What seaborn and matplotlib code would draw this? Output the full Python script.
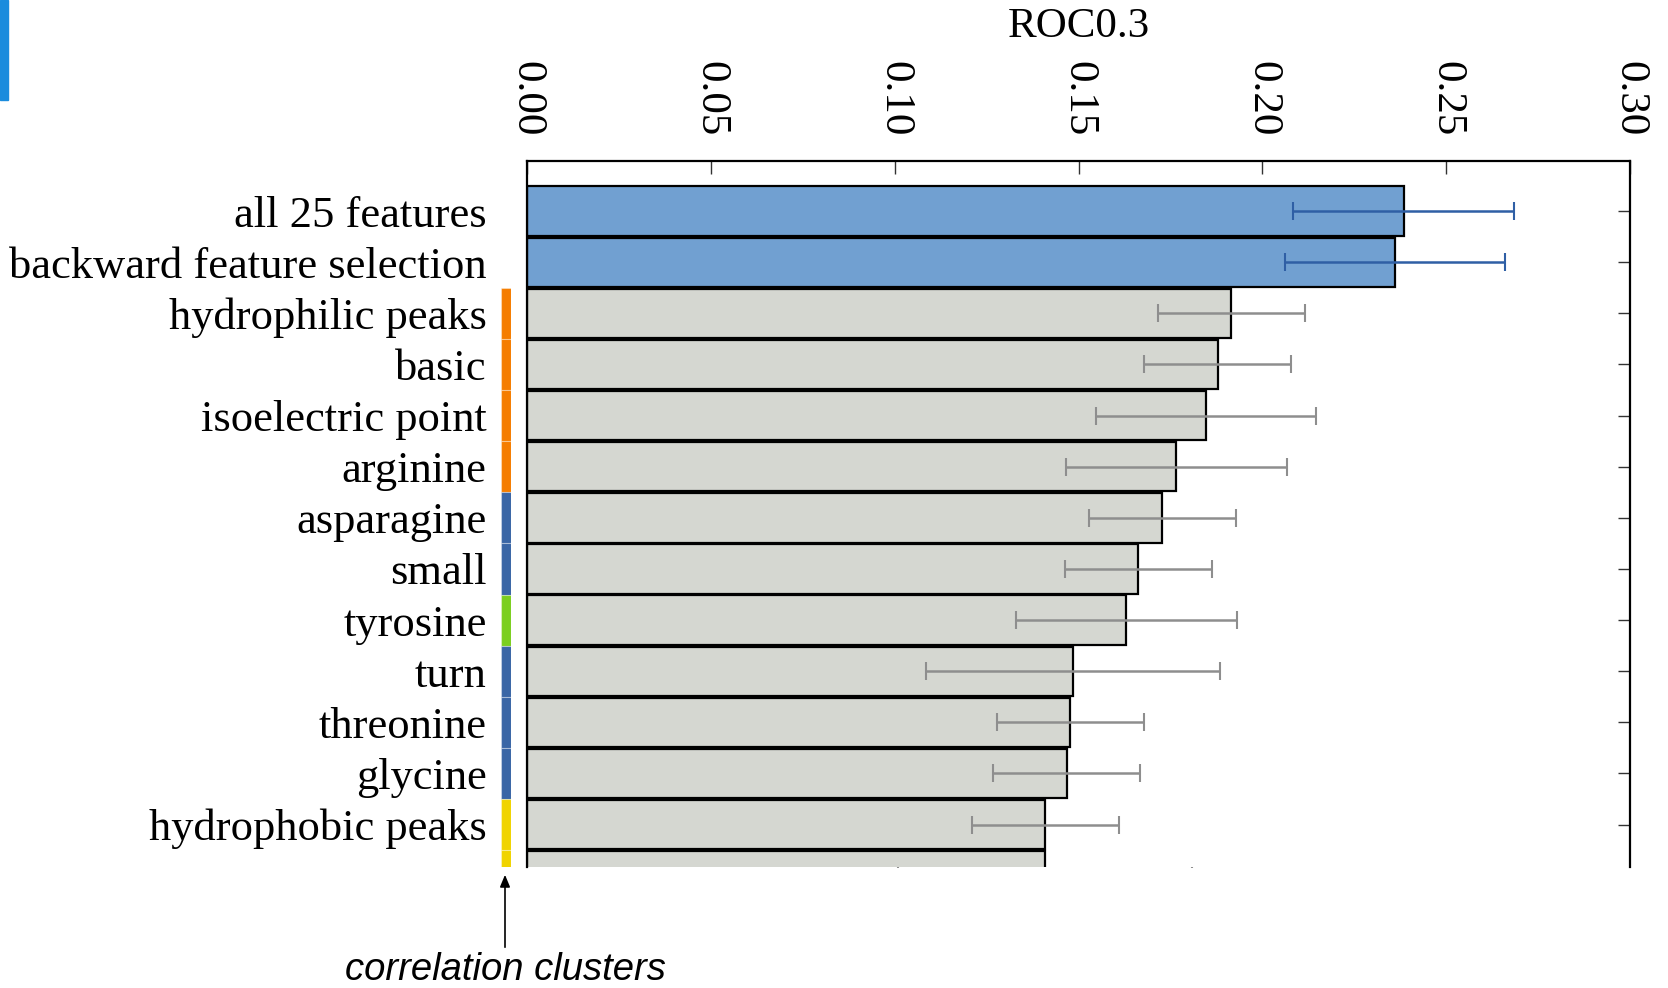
import numpy as np
import pandas as pd
import matplotlib
matplotlib.use("Agg")
import matplotlib.pyplot as plt
import seaborn as sns
from matplotlib.patches import Rectangle

# ---- data ----
features = ["all 25 features", "backward feature selection", "hydrophilic peaks",
            "basic", "isoelectric point", "arginine", "asparagine", "small",
            "tyrosine", "turn", "threonine", "glycine", "hydrophobic peaks",
            "next feature"]
roc03 = [0.2384, 0.2361, 0.1916, 0.1879, 0.1847, 0.1766, 0.1728, 0.1662,
         0.1630, 0.1486, 0.1477, 0.1468, 0.1410, 0.1410]
roc_err = [0.030, 0.030, 0.020, 0.020, 0.030, 0.030, 0.020, 0.020,
           0.030, 0.040, 0.020, 0.020, 0.020, 0.040]
groups = ["combined", "combined"] + ["single"] * 12
clusters = [None, None, "orange", "orange", "orange", "orange", "blue", "blue",
            "green", "blue", "blue", "blue", "yellow", "yellow"]
xticks = [0.00, 0.05, 0.10, 0.15, 0.20, 0.25, 0.30]

bar_colors = {"combined": "#71A0D1", "single": "#D5D7D1"}
err_colors = {"combined": "#2F5FA5", "single": "#8E8E8E"}
cluster_colors = {"orange": "#F57D00", "blue": "#3A66A6", "green": "#7BCF1F",
                  "yellow": "#F0D400"}

df = pd.DataFrame({"feature": features, "roc": roc03, "err": roc_err,
                   "group": groups})

sns.set_theme(style="white")
plt.rcParams["font.family"] = ["Liberation Serif", "DejaVu Serif"]
plt.rcParams["text.color"] = "black"
plt.rcParams["xtick.color"] = "black"
plt.rcParams["ytick.color"] = "black"
plt.rcParams["axes.labelcolor"] = "black"

W, H = 1668, 988
fig = plt.figure(figsize=(W / 100, H / 100), dpi=100)
ax = fig.add_axes([527 / W, 1 - 867 / H, (1630 - 527) / W, (867 - 161) / H])

sns.barplot(data=df, x="roc", y="feature", hue="feature",
            palette=[bar_colors[g] for g in groups], orient="h",
            width=0.965, edgecolor="black", linewidth=1.6, legend=False,
            errorbar=None, saturation=1, ax=ax, zorder=2)

pos = np.arange(len(features))
for g in ["combined", "single"]:
    m = df["group"] == g
    ax.errorbar(df.loc[m, "roc"], pos[m.values], xerr=df.loc[m, "err"],
                fmt="none", ecolor=err_colors[g], elinewidth=1.8,
                capsize=6.5, capthick=1.5, zorder=3)

ylim = (12.83, -0.98)
ax.set_xlim(0, 0.30)
ax.set_ylim(*ylim)
ax.set_xticks(xticks)
ax.set_xticklabels([f"{t:.2f}" for t in xticks], rotation=-90)
ax.xaxis.tick_top()
ax.xaxis.set_label_position("top")
ax.set_xlabel("ROC0.3", fontsize=31, labelpad=17)
ax.set_ylabel("")
ax.set_yticks(pos[:13])
ax.set_yticklabels(features[:13])
ax.tick_params(axis="x", which="both", direction="in", length=9, width=1,
               labelsize=31, pad=18, top=True, bottom=False,
               labeltop=True, labelbottom=False, color="#333333",
               labelcolor="black")
ax.tick_params(axis="y", which="both", direction="in", length=9, width=1,
               labelsize=32, pad=29, left=True, right=True, color="#333333",
               labelcolor="black")
for s in ["top", "left", "right"]:
    ax.spines[s].set_visible(True)
    ax.spines[s].set_linewidth(1.6)
    ax.spines[s].set_color("black")
ax.spines["bottom"].set_visible(False)
ax.grid(False)

# cluster colour strip
ax2 = fig.add_axes([501 / W, 1 - 867 / H, 10 / W, (867 - 161) / H])
cpos = [p for p, c in zip(pos, clusters) if c is not None]
ccol = [cluster_colors[c] for c in clusters if c is not None]
ax2.barh(cpos, [1] * len(cpos), height=1.0, color=ccol,
         edgecolor=(1, 1, 1, 0.35), linewidth=0.8)
ax2.set_xlim(0, 1)
ax2.set_ylim(*ylim)
ax2.axis("off")

# annotation
fig.text(505 / W, 1 - 970 / H, "correlation clusters", ha="center",
         va="center", fontsize=27.5, style="italic", color="black",
         family=["Liberation Sans", "DejaVu Sans"])
ax.annotate("", xy=(505 / W, 1 - 872 / H), xycoords="figure fraction",
            xytext=(505 / W, 1 - 950 / H), textcoords="figure fraction",
            arrowprops=dict(arrowstyle="-|>,head_length=0.6,head_width=0.25",
                            color="black", lw=1.2))

# blue marker strip at top-left edge
fig.patches.append(Rectangle((0, 1 - 100 / H), 8 / W, 100 / H,
                             transform=fig.transFigure, color="#1A8CDD",
                             zorder=5))

fig.savefig("out.png", dpi=100)
